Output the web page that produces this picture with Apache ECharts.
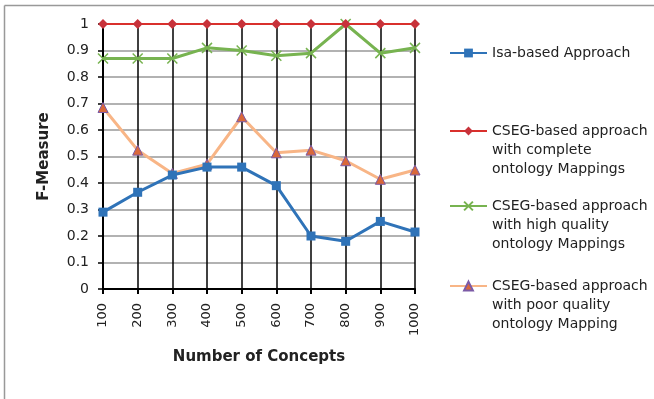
<!DOCTYPE html>
<html><head><meta charset="utf-8">
<script src="https://cdn.jsdelivr.net/npm/echarts@6/dist/echarts.min.js"></script>
<style>html,body{margin:0;padding:0;background:#fff}#c{width:654px;height:399px}</style>
</head><body><div id="c"></div>
<script>
const categories = ['100','200','300','400','500','600','700','800','900','1000'];
const isaValues = [0.29, 0.365, 0.43, 0.46, 0.46, 0.39, 0.20, 0.18, 0.255, 0.215];
const completeValues = [1, 1, 1, 1, 1, 1, 1, 1, 1, 1];
const highValues = [0.87, 0.87, 0.87, 0.91, 0.90, 0.88, 0.89, 1.0, 0.89, 0.91];
const poorValues = [0.685, 0.524, 0.436, 0.471, 0.65, 0.514, 0.524, 0.484, 0.414, 0.449];
const seriesNames = [
  'Isa-based Approach',
  'CSEG-based approach\nwith complete\nontology Mappings',
  'CSEG-based approach\nwith high quality\nontology Mappings',
  'CSEG-based approach\nwith poor quality\nontology Mapping'
];

const FONT = 'DejaVu Sans';
const chart = echarts.init(document.getElementById('c'));
function legendFor(name, top, multi) {
  return {
    data: [name], left: 444, top: top, orient: 'vertical',
    itemWidth: 37, itemHeight: 11, itemGap: 0,
    formatter: n => multi ? '\n\n' + n : n,
    textStyle: {fontFamily: FONT, fontSize: 14, color: '#222', lineHeight: 19},
    selectedMode: false
  };
}
chart.setOption({
  animation: false,
  backgroundColor: '#fff',
  graphic: [
    {type: 'line', shape: {x1: 4.5, y1: 5.5, x2: 654, y2: 5.5}, style: {stroke: '#999', lineWidth: 1.5}},
    {type: 'line', shape: {x1: 4.5, y1: 5.5, x2: 4.5, y2: 399}, style: {stroke: '#999', lineWidth: 1.5}}
  ],
  legend: [
    legendFor(seriesNames[0], 38.5, false),
    legendFor(seriesNames[1], 78.5, true),
    legendFor(seriesNames[2], 153.5, true),
    legendFor(seriesNames[3], 233.5, true)
  ],
  grid: {left: 103, right: 239, top: 24, bottom: 110},
  xAxis: {
    type: 'category', data: categories, boundaryGap: false,
    name: 'Number of Concepts', nameLocation: 'middle', nameGap: 61,
    nameTextStyle: {fontFamily: FONT, fontSize: 15, fontWeight: 'bold', color: '#222'},
    axisLine: {lineStyle: {color: '#000', width: 2}},
    axisTick: {show: true, length: 5, lineStyle: {color: '#000', width: 2}},
    axisLabel: {rotate: 90, margin: 14, fontFamily: FONT, fontSize: 13, color: '#222'},
    splitLine: {show: true, lineStyle: {color: '#000', width: 1.5}}
  },
  yAxis: {
    type: 'value', min: 0, max: 1, interval: 0.1,
    name: 'F-Measure', nameLocation: 'middle', nameGap: 51,
    nameTextStyle: {fontFamily: FONT, fontSize: 15, fontWeight: 'bold', color: '#222'},
    axisLine: {show: true, lineStyle: {color: '#000', width: 2}},
    axisTick: {show: true, length: 5, lineStyle: {color: '#000', width: 1.5}},
    axisLabel: {margin: 14, fontFamily: FONT, fontSize: 14, color: '#222',
      formatter: v => String(Math.round(v * 10) / 10)},
    splitLine: {show: true, lineStyle: {color: '#999', width: 1.5}}
  },
  series: [
    {name: seriesNames[0], type: 'line', data: isaValues, symbol: 'rect', symbolSize: 9,
      lineStyle: {color: '#2f73b8', width: 3}, itemStyle: {color: '#2f73b8'}, z: 5},
    {name: seriesNames[1], type: 'line', data: completeValues, symbol: 'diamond', symbolSize: 10,
      lineStyle: {color: '#d9302c', width: 2}, itemStyle: {color: '#c8323a'}, z: 4},
    {name: seriesNames[2], type: 'line', data: highValues, symbol: 'path://M0,0L10,10M10,0L0,10', symbolSize: 10,
      lineStyle: {color: '#77b350', width: 3}, itemStyle: {color: 'none', borderColor: '#77b350', borderWidth: 1.5}, z: 3},
    {name: seriesNames[3], type: 'line', data: poorValues, symbol: 'triangle', symbolSize: 10,
      lineStyle: {color: '#f8b586', width: 3}, itemStyle: {color: '#d9683a', borderColor: '#7b5aa6', borderWidth: 1}, z: 3}
  ]
});
</script>
</body></html>
